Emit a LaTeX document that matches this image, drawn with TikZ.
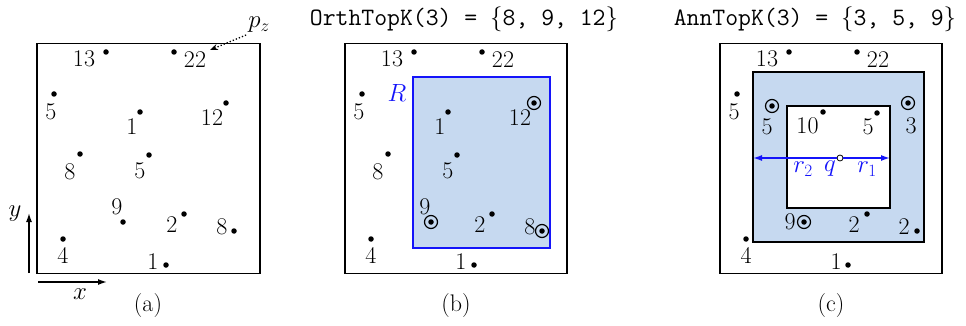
\documentclass[tikz,border=0pt]{standalone}
\usetikzlibrary{arrows.meta}
\definecolor{fillblue}{RGB}{198,217,240}
\definecolor{rblue}{RGB}{20,20,250}
\begin{document}
\begin{tikzpicture}[x=1pt,y=-1pt,
  pt/.style={circle,fill=black,inner sep=0pt,minimum size=5.5pt},
  ring/.style={circle,draw=black,line width=1.2pt,inner sep=0pt,minimum size=13pt},
  lbl/.style={inner sep=0pt,font=\fontsize{24}{28}\selectfont},
  ttl/.style={inner sep=0pt,font=\fontsize{25}{30}\selectfont},
  frame/.style={draw=black,line width=1.6pt},
  axis/.style={line width=1.5pt,-{Latex[length=9pt,width=6pt]}},
  bluearrow/.style={draw=rblue,line width=1.5pt,-{Latex[length=9pt,width=6pt]}},
  qdot/.style={circle,draw=black,fill=white,line width=0.8pt,inner sep=0pt,minimum size=6pt}
]
\useasboundingbox (0,0) rectangle (966,326);

% ---------- panel (a) and (b): frames ----------
\node[frame,minimum width=223pt,minimum height=230pt,inner sep=0pt] (fa) at (148.5,158.5) {};
\node[frame,minimum width=222pt,minimum height=230pt,inner sep=0pt] (fb) at (456,158.5) {};
% region R in (b)
\node[draw=rblue,fill=fillblue,line width=1.5pt,minimum width=137pt,minimum height=171pt,inner sep=0pt] (R) at (481.5,162.5) {};
\node[lbl,text=rblue] (Rl) at (397,93) {$R$};

% points shared by (a) and (b)
\foreach \p/\s in {a/0,b/308}{
  \begin{scope}[xshift=\s pt]
  \foreach \n/\dx/\dy/\t/\lx/\ly in {
     p1/106/52/13/84/59,
     p2/174/52/22/195/60,
     p3/54/94/5/51/112,
     p4/140/112/1/132/127,
     p5/226/103/12/212/118,
     p6/80/154/8/70/172,
     p7/149/155/5/140/171,
     p8/123/222/9/117/207,
     p9/184/214/2/172/225,
     p10/234/231/8/222/227,
     p11/63/239/4/63/255,
     p12/166/265/1/153/262}{
    \node[pt] (\p\n) at (\dx,\dy) {};
    \node[lbl] (\p\n l) at (\lx,\ly) {\t};
  }
  \end{scope}
}
% circled results in (b)
\node[ring] (rb5) at (bp5) {};
\node[ring] (rb8) at (bp8) {};
\node[ring] (rb10) at (bp10) {};

% axes in (a)
\coordinate (ya) at (29,273);
\coordinate (yb) at (29,213);
\coordinate (xa) at (38,282);
\coordinate (xb) at (107,282);
\draw[axis] (ya) -- (yb);
\draw[axis] (xa) -- (xb);
\node[lbl] (ylab) at (15,214) {$y$};
\node[lbl] (xlab) at (80,294) {$x$};

% p_z pointer
\node[lbl,inner sep=2pt] (pz) at (259,25) {$p_z$};
\coordinate (pzt) at (210,50);
\draw[line width=1.3pt,dotted,-{Stealth[length=8pt,width=6pt]}] (pz.south west) -- (pzt);

% ---------- panel (c) ----------
\node[frame,minimum width=222pt,minimum height=230pt,inner sep=0pt] (fc) at (831,158.5) {};
\node[frame,fill=fillblue,minimum width=171pt,minimum height=170pt,inner sep=0pt] (outer) at (838.5,157) {};
\node[frame,fill=white,minimum width=103pt,minimum height=102pt,inner sep=0pt] (inner) at (838.5,157) {};

\foreach \n/\dx/\dy/\t/\lx/\ly in {
   c1/789/52/13/767/59,
   c2/857/52/22/878/60,
   c3/737/94/5/734/112,
   c4/772/106/5/767/127,
   c5/823/112/10/807.5/126,
   c6/877/113/5/868/127,
   c7/908/103/3/911/126,
   c8/804/222/9/790/222,
   c9/867/214/2/854/225,
   c10/917/231/2/904/227,
   c11/746/239/4/746/255,
   c12/848/265/1/836/262}{
  \node[pt] (\n) at (\dx,\dy) {};
  \node[lbl] (\n l) at (\lx,\ly) {\t};
}
\node[ring] (rc4) at (c4) {};
\node[ring] (rc7) at (c7) {};
\node[ring] (rc8) at (c8) {};

% query point and radii
\node[qdot] (q) at (840,158) {};
\coordinate (r2end) at (753,158);
\coordinate (r1end) at (890,158);
\draw[bluearrow] (q) -- (r2end);
\draw[bluearrow] (q) -- (r1end);
\node[lbl,text=rblue] (r2l) at (803,169) {$r_2$};
\node[lbl,text=rblue] (ql) at (830,169) {$q$};
\node[lbl,text=rblue] (r1l) at (867,169) {$r_1$};

% ---------- titles and captions ----------
\node[ttl] (tb) at (464,19) {\texttt{OrthTopK(3) = }$\{$\texttt{8, 9, 12}$\}$};
\node[ttl] (tc) at (815,19) {\texttt{AnnTopK(3) = }$\{$\texttt{3, 5, 9}$\}$};
\node[lbl] (capa) at (148,306) {(a)};
\node[lbl] (capb) at (456,306) {(b)};
\node[lbl] (capc) at (831,306) {(c)};
\end{tikzpicture}
\end{document}
